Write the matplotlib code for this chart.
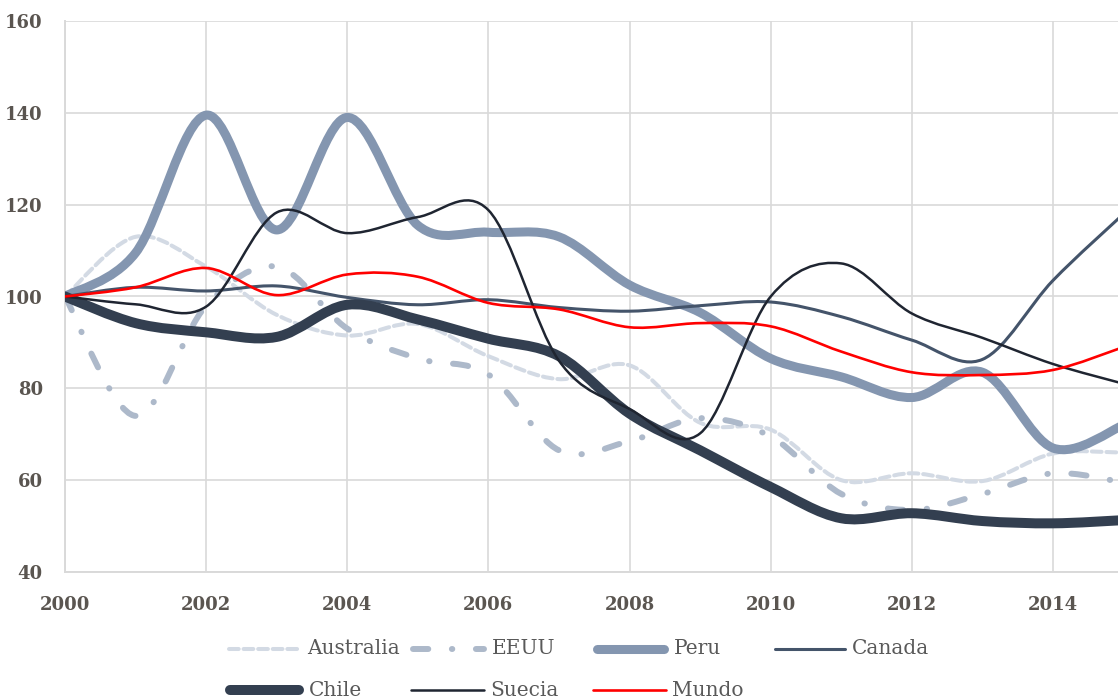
import matplotlib
matplotlib.use("Agg")
import matplotlib.pyplot as plt
from matplotlib.path import Path
from matplotlib.patches import PathPatch
from matplotlib.lines import Line2D

plt.rcParams["lines.scale_dashes"] = False

# ---------------- data ----------------
years = list(range(2000, 2016))
australia = [100, 113, 106.5, 96, 91.5, 94, 87, 82, 85, 72.5, 71, 60, 61.5, 59.8, 65.8, 66]
eeuu = [100, 74, 98, 106.5, 93, 86.5, 83, 66.5, 68.5, 73.5, 69.5, 57, 53.5, 57, 61.5, 59.5]
peru = [100, 109.5, 139.5, 114.5, 139, 115.5, 114, 113, 102.5, 96.5, 86.5, 82.5, 78, 83.5, 67, 72]
canada = [100, 102, 101.2, 102.3, 99.8, 98.2, 99.3, 97.6, 96.8, 98, 98.8, 95.6, 90.5, 86.3, 103.5, 118]
chile = [100, 94.2, 92.2, 91.2, 98.2, 95, 90.8, 87, 74.5, 66.5, 58.5, 51.7, 52.8, 51.1, 50.6, 51.3]
suecia = [100, 98.3, 97.8, 118.3, 113.8, 117.3, 118.8, 86, 75.5, 70.2, 100, 107.2, 96.3, 91, 85.3, 81]
mundo = [100, 102, 106.2, 100.3, 104.8, 104.3, 98.6, 97.2, 93.3, 94.2, 93.5, 88, 83.5, 82.9, 84, 89]

series_names = ["Australia", "EEUU", "Peru", "Canada", "Chile", "Suecia", "Mundo"]
series_values = [australia, eeuu, peru, canada, chile, suecia, mundo]

x_ticks = [2000, 2002, 2004, 2006, 2008, 2010, 2012, 2014]
y_ticks = [40, 60, 80, 100, 120, 140, 160]

# ---------------- styles ----------------
styles = {
    "Australia": dict(color="#d3dae4", lw=2.9, ls=(0, (7, 3.5))),
    "EEUU": dict(color="#adb9ca", lw=4.3, ls=(0, (11, 17, 0.3, 17))),
    "Peru": dict(color="#8496b0", lw=6.5, ls="-"),
    "Canada": dict(color="#44546a", lw=2.2, ls="-"),
    "Chile": dict(color="#333f50", lw=7.2, ls="-"),
    "Suecia": dict(color="#1f2531", lw=1.8, ls="-"),
    "Mundo": dict(color="#ff0000", lw=1.9, ls="-"),
}

W, H = 1118, 698
fig = plt.figure(figsize=(W / 100, H / 100), dpi=100)
left, right_px, top, bottom = 65, W, 21, 572
ax = fig.add_axes([left / W, 1 - bottom / H, (right_px - left) / W, (bottom - top) / H])

px_per_year = (1053 - 65) / 14
ax.set_xlim(2000, 2000 + (right_px - left) / px_per_year)
ax.set_ylim(40, 160)


def smooth_path(xs, ys):
    pts = list(zip(xs, ys))
    n = len(pts)
    verts = [pts[0]]
    codes = [Path.MOVETO]
    for i in range(n - 1):
        p0 = pts[i - 1] if i > 0 else pts[i]
        p1 = pts[i]
        p2 = pts[i + 1]
        p3 = pts[i + 2] if i + 2 < n else pts[i + 1]
        c1 = (p1[0] + (p2[0] - p0[0]) / 6, p1[1] + (p2[1] - p0[1]) / 6)
        c2 = (p2[0] - (p3[0] - p1[0]) / 6, p2[1] - (p3[1] - p1[1]) / 6)
        verts += [c1, c2, p2]
        codes += [Path.CURVE4] * 3
    return Path(verts, codes)


for name, vals in zip(series_names, series_values):
    st = styles[name]
    patch = PathPatch(smooth_path(years, vals), fill=False, edgecolor=st["color"],
                      linewidth=st["lw"], linestyle=st["ls"], capstyle="round",
                      joinstyle="round", zorder=3)
    ax.add_patch(patch)

grid_c = "#d9d9d9"
ax.set_xticks(x_ticks)
ax.set_yticks(y_ticks)
ax.grid(True, color=grid_c, lw=1.2, zorder=0)
ax.set_axisbelow(True)
for s in ["top", "right"]:
    ax.spines[s].set_visible(False)
for s in ["left", "bottom"]:
    ax.spines[s].set_color(grid_c)
    ax.spines[s].set_linewidth(1.4)

tick_font = dict(family="DejaVu Serif", size=13, weight="semibold", color="#5a5550")
ax.tick_params(length=0, pad=17)
ax.set_xticklabels([str(t) for t in x_ticks], **tick_font)
ax.set_yticklabels([str(t) for t in y_ticks], **tick_font)
ax.tick_params(axis="y", pad=16)

# ---------------- legend (manual layout) ----------------
legend_layout = [
    ("Australia", 227, 302, 649),
    ("EEUU", 410, 487, 649),
    ("Peru", 592, 669, 649),
    ("Canada", 773, 847, 649),
    ("Chile", 225, 304, 690),
    ("Suecia", 410, 485, 690),
    ("Mundo", 592, 667, 690),
]
for name, x0, x1, yy in legend_layout:
    st = styles[name]
    r = st["lw"] / 0.72 / 2  # round-cap radius in px
    ln = Line2D([(x0 + r) / W, (x1 - r) / W], [1 - yy / H, 1 - yy / H], transform=fig.transFigure,
                color=st["color"], lw=st["lw"], linestyle=st["ls"],
                solid_capstyle="round", dash_capstyle="round")
    fig.add_artist(ln)
    fig.text((x1 + 5) / W, 1 - yy / H, name, ha="left", va="center",
             family="DejaVu Serif", size=14.5, color="#595959")

fig.savefig("out.png", dpi=100)
